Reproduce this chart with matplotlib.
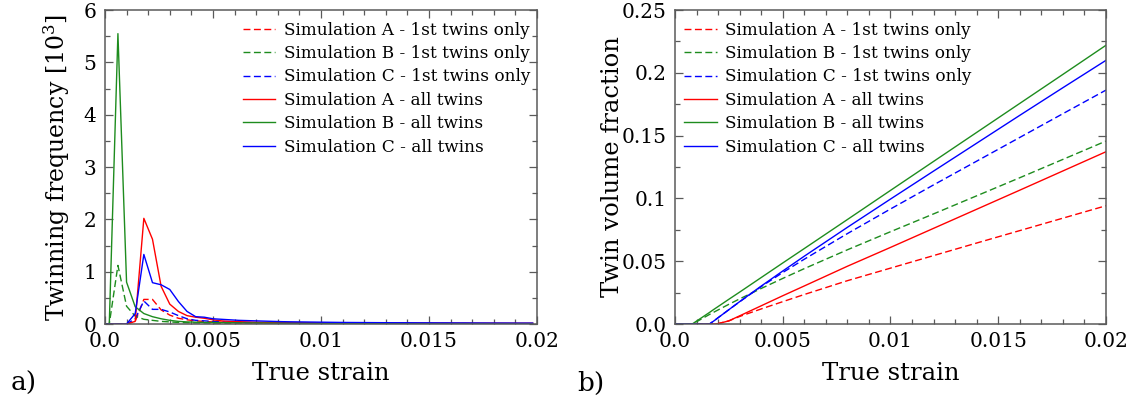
import matplotlib
matplotlib.use("Agg")
import matplotlib.pyplot as plt
from matplotlib.ticker import MultipleLocator

plt.rcParams["font.family"] = ["DejaVu Serif"]
plt.rcParams["mathtext.fontset"] = "dejavuserif"

# strain grid of the twinning-frequency histogram
strain_a = [0.0] + [round(0.0002 + 0.0004 * k, 4) for k in range(50)]

# twinning frequency [10^3]
freq_a_first = [0, 0, 0, 0, 0.05, 0.47, 0.47, 0.27, 0.17, 0.11, 0.08, 0.06, 0.05, 0.04, 0.035,
                0.03, 0.028, 0.025, 0.022, 0.02, 0.018, 0.016, 0.015, 0.014, 0.013, 0.012, 0.011,
                0.011, 0.01, 0.01, 0.01, 0.009, 0.009, 0.009, 0.008, 0.008, 0.008, 0.008, 0.007,
                0.007, 0.007, 0.007, 0.006, 0.006, 0.006, 0.006, 0.006, 0.005, 0.005, 0.005, 0.005]
freq_b_first = [0, 0, 1.12, 0.34, 0.15, 0.09, 0.07, 0.05, 0.04, 0.03, 0.025, 0.02, 0.02, 0.015,
                0.014, 0.013, 0.012, 0.011, 0.01, 0.01, 0.009, 0.009, 0.008, 0.008, 0.008, 0.007,
                0.007, 0.007, 0.006, 0.006, 0.006, 0.006, 0.005, 0.005, 0.005, 0.005, 0.005, 0.004,
                0.004, 0.004, 0.004, 0.004, 0.004, 0.003, 0.003, 0.003, 0.003, 0.003, 0.003, 0.003, 0.003]
freq_c_first = [0, 0, 0, 0, 0.10, 0.44, 0.28, 0.28, 0.23, 0.16, 0.10, 0.07, 0.06, 0.05, 0.04,
                0.035, 0.03, 0.028, 0.025, 0.022, 0.02, 0.018, 0.017, 0.016, 0.015, 0.014, 0.013,
                0.012, 0.012, 0.011, 0.011, 0.01, 0.01, 0.01, 0.009, 0.009, 0.009, 0.008, 0.008,
                0.008, 0.008, 0.007, 0.007, 0.007, 0.007, 0.007, 0.006, 0.006, 0.006, 0.006, 0.006]
freq_a_all = [0, 0, 0, 0, 0.05, 2.02, 1.62, 0.72, 0.38, 0.24, 0.16, 0.13, 0.11, 0.08, 0.06,
              0.05, 0.045, 0.04, 0.035, 0.032, 0.03, 0.028, 0.027, 0.026, 0.025, 0.024, 0.023,
              0.022, 0.022, 0.021, 0.021, 0.02, 0.02, 0.02, 0.019, 0.019, 0.019, 0.018, 0.018,
              0.018, 0.017, 0.017, 0.017, 0.016, 0.016, 0.016, 0.016, 0.015, 0.015, 0.015, 0.015]
freq_b_all = [0, 0, 5.55, 0.80, 0.33, 0.20, 0.14, 0.10, 0.07, 0.05, 0.04, 0.035, 0.03, 0.03,
              0.025, 0.025, 0.022, 0.02, 0.02, 0.018, 0.017, 0.016, 0.015, 0.015, 0.014, 0.014,
              0.013, 0.013, 0.012, 0.012, 0.012, 0.011, 0.011, 0.011, 0.01, 0.01, 0.01, 0.01, 0.01,
              0.009, 0.009, 0.009, 0.009, 0.009, 0.008, 0.008, 0.008, 0.008, 0.008, 0.008, 0.008]
freq_c_all = [0, 0, 0, 0, 0.20, 1.33, 0.79, 0.75, 0.66, 0.43, 0.24, 0.14, 0.13, 0.10, 0.09,
              0.08, 0.07, 0.065, 0.06, 0.055, 0.05, 0.045, 0.042, 0.04, 0.038, 0.036, 0.034,
              0.032, 0.03, 0.029, 0.028, 0.027, 0.026, 0.025, 0.024, 0.024, 0.023, 0.022, 0.022,
              0.021, 0.021, 0.02, 0.02, 0.019, 0.019, 0.018, 0.018, 0.018, 0.017, 0.017, 0.017]

# strain grid of the twin volume fraction
strain_b = [0.0, 0.0008, 0.0012, 0.0016, 0.0018, 0.002, 0.0025, 0.003, 0.004, 0.005, 0.006,
            0.008, 0.01, 0.012, 0.014, 0.016, 0.018, 0.02]

vf_a_first = [0, 0, 0, 0, 0, 0.0003, 0.0025, 0.006, 0.012, 0.0178, 0.0235, 0.0345, 0.0445,
              0.0545, 0.0645, 0.0744, 0.0843, 0.0942]
vf_b_first = [0, 0, 0.0037, 0.0076, 0.0094, 0.0112, 0.0157, 0.0200, 0.0283, 0.0363, 0.0441,
              0.0591, 0.0735, 0.0877, 0.1021, 0.1165, 0.1311, 0.1457]
vf_c_first = [0, 0, 0, 0, 0.0024, 0.005, 0.0114, 0.0177, 0.0298, 0.041, 0.0516, 0.0720,
              0.0916, 0.1108, 0.1297, 0.1486, 0.1675, 0.1863]
vf_a_all = [0, 0, 0, 0, 0, 0.0003, 0.0025, 0.0065, 0.0145, 0.0225, 0.0303, 0.046, 0.061,
            0.0762, 0.0914, 0.1066, 0.1219, 0.1372]
vf_b_all = [0, 0, 0.0046, 0.0092, 0.0116, 0.0139, 0.0197, 0.0254, 0.037, 0.0486, 0.0601,
            0.0832, 0.1064, 0.1295, 0.1526, 0.1757, 0.1988, 0.222]
vf_c_all = [0, 0, 0, 0, 0.0024, 0.005, 0.0114, 0.0178, 0.0302, 0.0422, 0.054, 0.077, 0.0995,
            0.1218, 0.144, 0.1662, 0.1882, 0.210]

labels = ["Simulation A - 1st twins only", "Simulation B - 1st twins only",
          "Simulation C - 1st twins only", "Simulation A - all twins",
          "Simulation B - all twins", "Simulation C - all twins"]
colors = ["#ff0000", "#1e8c1e", "#0000ff"] * 2
styles = ["--"] * 3 + ["-"] * 3

x_ticks = [0.0, 0.005, 0.01, 0.015, 0.02]
x_ticklabels = ["0.0", "0.005", "0.01", "0.015", "0.02"]
yb_ticks = [0.0, 0.05, 0.1, 0.15, 0.2, 0.25]
yb_ticklabels = ["0.0", "0.05", "0.1", "0.15", "0.2", "0.25"]

fig = plt.figure(figsize=(11.31, 4.04), dpi=100)
ax1 = fig.add_axes([0.0928, 0.198, 0.382, 0.777])
ax2 = fig.add_axes([0.5968, 0.198, 0.3811, 0.777])


def style_axis(ax):
    for sp in ax.spines.values():
        sp.set_color("#5a5a5a")
        sp.set_linewidth(1.1)
    ax.tick_params(which="both", direction="in", top=True, right=True, colors="#5a5a5a",
                   labelcolor="black", labelsize=14.5, pad=6)
    ax.tick_params(which="major", length=6, width=0.9)
    ax.tick_params(which="minor", length=3.5, width=0.9)
    ax.set_xlim(0, 0.02)
    ax.set_xticks(x_ticks)
    ax.set_xticklabels(x_ticklabels)
    ax.xaxis.set_minor_locator(MultipleLocator(0.001))
    ax.set_xlabel("True strain", fontsize=17.5)
    ax.xaxis.set_label_coords(0.5, -0.122)


series_a = [freq_a_first, freq_b_first, freq_c_first, freq_a_all, freq_b_all, freq_c_all]
for vals, c, ls, lab in zip(series_a, colors, styles, labels):
    line, = ax1.plot(strain_a, vals, color=c, ls=ls, lw=1.0, label=lab)
    if ls == "--":
        line.set_dashes((5, 2.5))

series_b = [vf_a_first, vf_b_first, vf_c_first, vf_a_all, vf_b_all, vf_c_all]
for vals, c, ls, lab in zip(series_b, colors, styles, labels):
    line, = ax2.plot(strain_b, vals, color=c, ls=ls, lw=1.0, label=lab)
    if ls == "--":
        line.set_dashes((5, 2.5))

style_axis(ax1)
ax1.set_ylim(0, 6)
ax1.yaxis.set_major_locator(MultipleLocator(1))
ax1.yaxis.set_minor_locator(MultipleLocator(0.5))
ax1.set_ylabel(r"Twinning frequency [10$^3$]", fontsize=17)
ax1.yaxis.set_label_coords(-0.076, 0.5)

style_axis(ax2)
ax2.set_ylim(0, 0.25)
ax2.set_yticks(yb_ticks)
ax2.set_yticklabels(yb_ticklabels)
ax2.yaxis.set_minor_locator(MultipleLocator(0.025))
ax2.set_ylabel("Twin volume fraction", fontsize=17.5)
ax2.yaxis.set_label_coords(-0.118, 0.5)

legend_x = {ax1: 0.304, ax2: 0.006}
for ax in (ax1, ax2):
    ax.legend(loc="upper left", frameon=False, fontsize=12.2, handlelength=1.9,
              handletextpad=0.5, labelspacing=0.38, borderaxespad=0.0,
              bbox_to_anchor=(legend_x[ax], 0.985))

fig.text(0.009, 0.052, "a)", fontsize=19, ha="left", va="center")
fig.text(0.51, 0.052, "b)", fontsize=19, ha="left", va="center")

fig.savefig("out.png", dpi=100)
